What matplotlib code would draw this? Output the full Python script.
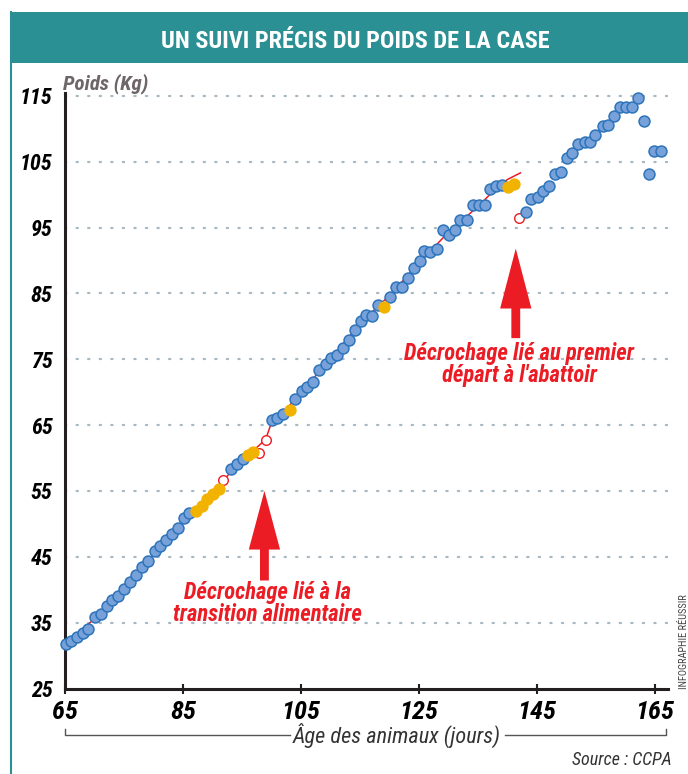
import os
import matplotlib
matplotlib.use('Agg')
import matplotlib.pyplot as plt
import matplotlib.font_manager as fm
from matplotlib.patches import Rectangle
from matplotlib.lines import Line2D

# blue points (day, kg)
blue_days = [65.2, 66.1, 67.1, 68.1, 68.9, 70.0, 71.1, 72.1, 73.0, 74.0, 75.0, 76.0, 77.1, 78.1, 79.1,
             80.3, 81.1, 82.1, 83.2, 84.2, 85.1, 86.1,
             93.1, 94.1, 95.1,
             100.0, 101.0, 102.0,
             104.0, 105.2, 106.1, 107.1, 108.1, 109.2, 110.1, 111.1, 112.1, 113.1, 114.2, 115.2, 116.0,
             117.1, 118.0,
             120.1, 121.1, 122.2, 123.1, 124.1, 125.2, 125.9, 126.9, 128.1, 129.0, 130.0, 131.1, 131.9,
             133.1, 134.2, 135.2, 136.1, 137.0, 138.1, 139.0,
             143.2, 144.0, 145.1, 146.0, 147.1, 148.1, 149.1, 150.1, 151.0, 151.9, 153.1, 154.0, 154.9,
             156.1, 157.1, 158.1, 159.1, 160.1, 161.1, 162.2, 163.1, 164.0, 164.9, 166.0]
blue_kg = [31.8, 32.2, 32.8, 33.5, 34.1, 35.9, 36.3, 37.5, 38.4, 39.1, 40.1, 41.1, 42.2, 43.5, 44.3,
           45.9, 46.7, 47.5, 48.4, 49.3, 50.9, 51.6,
           58.3, 59.1, 59.9,
           65.7, 66.1, 66.7,
           69.0, 70.1, 70.8, 71.5, 73.4, 74.2, 75.2, 75.7, 76.7, 77.9, 79.4, 80.8, 81.7,
           81.5, 83.3,
           84.5, 85.9, 85.9, 87.3, 88.9, 89.9, 91.4, 91.3, 91.7, 94.6, 93.8, 94.6, 96.1,
           96.2, 98.4, 98.4, 98.4, 100.8, 101.3, 101.5,
           97.4, 99.3, 99.7, 100.5, 101.3, 103.2, 103.4, 105.6, 106.3, 107.7, 108.0, 108.0, 109.1,
           110.4, 110.6, 112.0, 113.3, 113.3, 113.3, 114.6, 111.1, 103.1, 106.6, 106.6]

# yellow points
yellow_days = [87.2, 88.2, 89.0, 90.0, 91.1, 96.1, 96.9, 103.1, 119.1, 140.1, 141.1]
yellow_kg = [51.9, 52.7, 53.7, 54.5, 55.3, 60.5, 60.9, 67.3, 83.0, 101.1, 101.6]

# open red circles
open_days = [91.8, 97.9, 99.0, 142.0]
open_kg = [56.6, 60.7, 62.8, 96.4]

# red trend line
trend_days = [65.2, 70, 75, 80, 85, 88, 91.8, 95, 99, 100, 102, 105, 110, 115, 120, 125, 130, 135, 138, 140, 142.2]
trend_kg = [31.8, 35.6, 40.1, 45.3, 50.4, 53.0, 56.6, 59.6, 62.8, 65.4, 66.9, 70.0, 75.0, 80.4, 84.7, 89.6,
            94.3, 98.2, 100.9, 102.3, 103.3]

x_ticks = [65, 85, 105, 125, 145, 165]
y_ticks = [25, 35, 45, 55, 65, 75, 85, 95, 105, 115]

RED = '#ec1c24'
TEAL = '#2a9094'


def cond_font(bold, italic):
    '''Look for an installed condensed / narrow face'''
    prefs = ['robotocondensed', 'notosans-condensed', 'dejavusanscondensed', 'liberationsansnarrow']
    found = []
    for f in fm.fontManager.ttflist:
        base = os.path.basename(f.fname).lower()
        if not ('condensed' in base or 'narrow' in base):
            continue
        if any(w in base for w in ['semicondensed', 'extracondensed', 'mono', 'serif', 'light', 'thin',
                                    'medium', 'black', 'semibold', 'extrabold']):
            continue
        if ('italic' in base or 'oblique' in base) != italic:
            continue
        if ('bold' in base) != bold:
            continue
        rank = len(prefs)
        for i, p in enumerate(prefs):
            if base.startswith(p):
                rank = i
        found.append((rank, f.fname))
    if found:
        return sorted(found)[0][1]
    return None


def font(size, bold=False, italic=False):
    path = cond_font(bold, italic)
    if path:
        return fm.FontProperties(fname=path, size=size)
    # no condensed face: shrink the regular one
    return fm.FontProperties(family='DejaVu Sans', weight='bold' if bold else 'normal',
                             style='italic' if italic else 'normal', size=size * 0.8)


fig = plt.figure(figsize=(6.88, 7.74), dpi=100)

# title band and left frame line
fig.patches.append(Rectangle((10 / 688, 1 - 63 / 774), 1, 51 / 774, transform=fig.transFigure,
                             facecolor=TEAL, edgecolor='none'))
fig.lines.append(Line2D([10.5 / 688, 10.5 / 688], [0, 1 - 12 / 774], transform=fig.transFigure,
                        color=TEAL, lw=1.5))
fig.text(355 / 688, 1 - 42 / 774, 'UN SUIVI PRÉCIS DU POIDS DE LA CASE', color='white',
         fontproperties=font(17.5, bold=True), ha='center', va='center')

ax = fig.add_axes([65 / 688, 1 - 688.5 / 774, 603 / 688, 596 / 774])
ax.set_xlim(65, 167.2)
ax.set_ylim(25, 115.5)

# grid
for y in y_ticks[1:]:
    ax.axhline(y, color='#a8b8c2', lw=1.6, ls=(0, (0.6, 4.6)), dash_capstyle='round', zorder=1)

ax.plot(trend_days, trend_kg, color=RED, lw=1.1, zorder=2)
ax.scatter(blue_days, blue_kg, s=62, facecolor='#77a1d8', edgecolor='#2d74bb', lw=1.1, zorder=4, clip_on=False)
ax.scatter(yellow_days, yellow_kg, s=62, facecolor='#f2b200', edgecolor='#f2b200', lw=1.0, zorder=4)
ax.scatter(open_days, open_kg, s=48, facecolor='white', edgecolor=RED, lw=1.0, zorder=3)

# arrows
ax.arrow(98.8, 41.4, 0, 13.6, width=1.5, head_width=5.3, head_length=8.9,
         length_includes_head=True, color=RED, lw=0, zorder=5)
ax.arrow(141.4, 78.2, 0, 13.6, width=1.5, head_width=5.3, head_length=9.1,
         length_includes_head=True, color=RED, lw=0, zorder=5)

ax.text(99.3, 37.9, 'Décrochage lié à la\ntransition alimentaire', color=RED,
        fontproperties=font(16.3, bold=True, italic=True), ha='center', va='center', linespacing=0.9)
ax.text(142.0, 74.2, 'Décrochage lié au premier\ndépart à l\'abattoir', color=RED,
        fontproperties=font(16.3, bold=True, italic=True), ha='center', va='center', linespacing=0.9)

# axes styling
for side in ['top', 'right']:
    ax.spines[side].set_visible(False)
ax.spines['left'].set_linewidth(2.2)
ax.spines['bottom'].set_linewidth(2.2)
ax.spines['left'].set_color('#231f20')
ax.spines['bottom'].set_color('#231f20')
ax.set_xticks(x_ticks)
ax.set_yticks(y_ticks)
ax.tick_params(axis='x', direction='inout', length=7, width=1.5, color='#231f20', pad=5)
ax.tick_params(axis='y', length=0, pad=9)
for lab in ax.get_xticklabels():
    lab.set_fontproperties(font(19, bold=True, italic=True))
for lab in ax.get_yticklabels():
    lab.set_fontproperties(font(16, bold=True, italic=True))

ax.text(64.6, 116.9, 'Poids (Kg)', color='#6d6567', fontproperties=font(15, bold=True, italic=True),
        ha='left', va='center', clip_on=False)

# bracket under x axis
yb = 1 - 735 / 774
fig.lines.append(Line2D([65 / 688, 65 / 688, 290 / 688], [yb + 6 / 774, yb, yb],
                        transform=fig.transFigure, color='#555555', lw=1))
fig.lines.append(Line2D([505 / 688, 666 / 688, 666 / 688], [yb, yb, yb + 6 / 774],
                        transform=fig.transFigure, color='#555555', lw=1))
fig.text(397 / 688, yb, 'Âge des animaux (jours)', color='#333333', fontproperties=font(16, italic=True),
         ha='center', va='center')
fig.text(672 / 688, 1 - 760 / 774, 'Source : CCPA', color='#333333', fontproperties=font(13, italic=True),
         ha='right', va='center')
fig.text(684 / 688, 1 - 689 / 774, 'INFOGRAPHIE RÉUSSIR', color='#444444', fontproperties=font(7.5),
         rotation=90, ha='center', va='bottom')

fig.savefig('out.png', dpi=100)
